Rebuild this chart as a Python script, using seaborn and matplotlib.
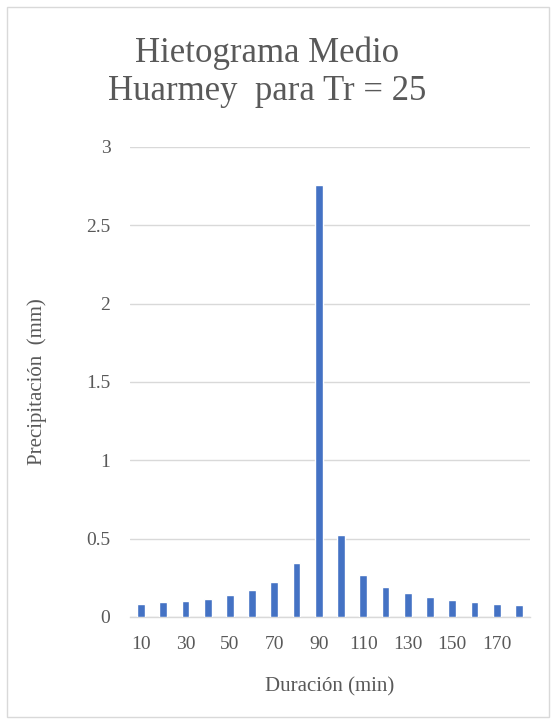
import matplotlib
matplotlib.use("Agg")
import matplotlib.pyplot as plt
import seaborn as sns
import pandas as pd
from matplotlib.patches import Rectangle

# data
duracion = [10, 20, 30, 40, 50, 60, 70, 80, 90, 100, 110, 120, 130, 140, 150, 160, 170, 180]
precip = [0.079, 0.092, 0.103, 0.117, 0.137, 0.169, 0.22, 0.346, 2.76, 0.521,
          0.269, 0.192, 0.15, 0.126, 0.109, 0.096, 0.083, 0.077]
y_ticks = [0, 0.5, 1, 1.5, 2, 2.5, 3]
y_labels = ["0", "0.5", "1", "1.5", "2", "2.5", "3"]

df = pd.DataFrame({"dur": [str(d) for d in duracion], "pp": precip})

sns.set_style("white")
plt.rcParams["font.family"] = ["Liberation Serif", "DejaVu Serif"]
txt = "#595959"

fig = plt.figure(figsize=(5.55, 7.24), dpi=100)
ax = fig.add_axes([0.234, 0.148, 0.721, 0.649])

sns.barplot(data=df, x="dur", y="pp", color="#4472C4", width=0.35,
            saturation=1, ax=ax, zorder=3)

ax.set_ylim(0, 3)
ax.set_xlim(-0.5, len(duracion) - 0.5)
ax.set_yticks(y_ticks)
ax.set_yticklabels(y_labels)
ax.set_xticks(range(0, len(duracion), 2))
ax.set_xticklabels([str(d) for d in duracion[::2]])
ax.yaxis.grid(True, color="#D9D9D9", linewidth=1, zorder=0)
ax.tick_params(axis="both", length=0, labelsize=14, colors=txt)
ax.tick_params(axis="y", pad=14)
ax.tick_params(axis="x", pad=14)

for s in ["top", "right", "left"]:
    ax.spines[s].set_visible(False)
ax.spines["bottom"].set_color("#D9D9D9")
ax.spines["bottom"].set_linewidth(1)

ax.set_xlabel("Duración (min)", fontsize=15, color=txt, labelpad=17)
ax.set_ylabel("Precipitación  (mm)", fontsize=15, color=txt, labelpad=28)

fig.text(0.481, 0.9, "Hietograma Medio\nHuarmey  para Tr = 25", ha="center", va="center",
         fontsize=25, color=txt, linespacing=1.2)

fig.patches.append(Rectangle((0.0126, 0.0097), 0.976, 0.98, transform=fig.transFigure,
                             fill=False, edgecolor="#D9D9D9", linewidth=1))

fig.savefig("out.png", dpi=100)
